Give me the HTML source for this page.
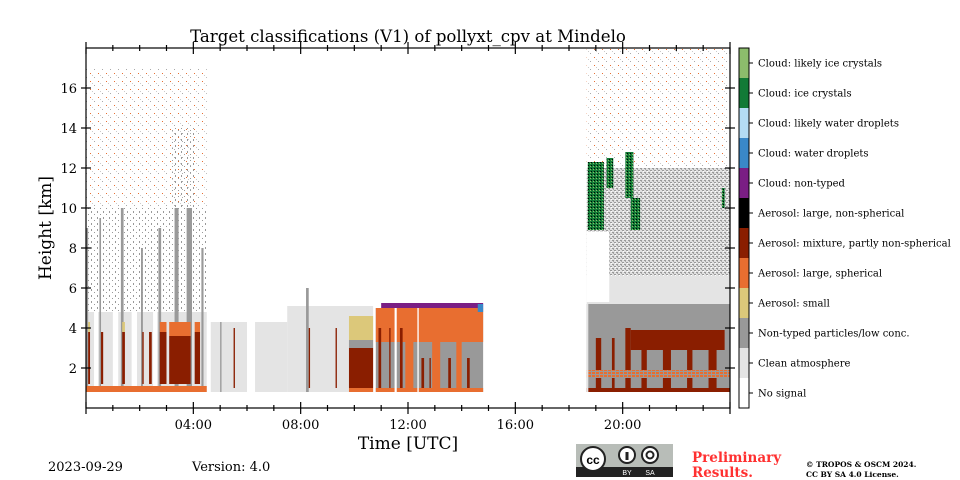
<!DOCTYPE html>
<html><head><meta charset="utf-8">
<style>
body{margin:0;background:#fff;}
svg{display:block;font-family:"DejaVu Serif","Liberation Serif",serif;}
</style></head>
<body>
<svg id="chart" width="960" height="480" viewBox="0 0 960 480">
<defs>
 <pattern id="p12" width="6" height="6" patternUnits="userSpaceOnUse"><rect x="1" y="1" width="1" height="2" fill="#999"/><rect x="4" y="4" width="1" height="1" fill="#999"/></pattern>
 <pattern id="p13" width="8" height="8" patternUnits="userSpaceOnUse"><rect x="2" y="1" width="1" height="1" fill="#e86e30"/><rect x="6" y="5" width="1" height="1" fill="#aaa"/><rect x="4" y="3" width="1" height="1" fill="#ccc"/></pattern>
 <pattern id="p14" width="4" height="4" patternUnits="userSpaceOnUse"><rect width="4" height="4" fill="#e0e0e0"/><rect x="0" y="0" width="2" height="1" fill="#999"/><rect x="2" y="2" width="2" height="1" fill="#999"/><rect x="1" y="1" width="1" height="1" fill="#aaa"/><rect x="3" y="3" width="1" height="1" fill="#fff"/></pattern>
 <pattern id="p15" width="4" height="3" patternUnits="userSpaceOnUse"><rect width="4" height="3" fill="#999"/><rect x="0" y="0" width="3" height="2" fill="#e86e30"/></pattern>
 <pattern id="p16" width="3" height="3" patternUnits="userSpaceOnUse"><rect width="3" height="3" fill="#127a36"/><rect x="0" y="0" width="1" height="1" fill="#000"/><rect x="2" y="1" width="1" height="1" fill="#8cbc6c"/></pattern>
</defs>
<g id="cells"></g>
<g id="axes"></g>
<text x="408" y="42" font-size="16.6" text-anchor="middle">Target classifications (V1) of pollyxt_cpv at Mindelo</text>
<text x="408" y="449" font-size="17" text-anchor="middle">Time [UTC]</text>
<text transform="translate(51,228) rotate(-90)" font-size="17" text-anchor="middle">Height [km]</text>
<g id="colorbar"></g>
<text x="48" y="471" font-size="13">2023-09-29</text>
<text x="192" y="471" font-size="13">Version: 4.0</text>
<g>
 <rect x="576" y="444" width="97" height="33" fill="#b8bdb8"/>
 <rect x="576" y="467" width="97" height="10" fill="#222"/>
 <circle cx="593" cy="459" r="12" fill="#fff" stroke="#222" stroke-width="2"/>
 <text x="593" y="464" font-size="12" font-weight="bold" text-anchor="middle" font-family="Liberation Sans,sans-serif">cc</text>
 <circle cx="627" cy="455" r="8" fill="#fff" stroke="#222" stroke-width="2"/>
 <rect x="625.5" y="452" width="3" height="8" fill="#222"/>
 <circle cx="650" cy="455" r="8" fill="#fff" stroke="#222" stroke-width="2"/>
 <circle cx="650" cy="455" r="3.5" fill="none" stroke="#222" stroke-width="2"/>
 <text x="627" y="475" font-size="7" fill="#fff" text-anchor="middle" font-family="Liberation Sans,sans-serif">BY</text>
 <text x="650" y="475" font-size="7" fill="#fff" text-anchor="middle" font-family="Liberation Sans,sans-serif">SA</text>
</g>
<text x="692" y="462" font-size="13.5" font-weight="bold" fill="#ff3030">Preliminary</text>
<text x="692" y="477" font-size="13.5" font-weight="bold" fill="#ff3030">Results.</text>
<text x="806" y="467" font-size="7.5" font-weight="bold">© TROPOS &amp; OSCM 2024.</text>
<text x="806" y="477" font-size="7.5" font-weight="bold">CC BY SA 4.0 License.</text>
</svg>
<script>
// class colours 0..11 (No signal .. Cloud: likely ice crystals); 12+ are mixed-texture classes
const classNames = ["No signal","Clean atmosphere","Non-typed particles/low conc.","Aerosol: small","Aerosol: large, spherical","Aerosol: mixture, partly non-spherical","Aerosol: large, non-spherical","Cloud: non-typed","Cloud: water droplets","Cloud: likely water droplets","Cloud: ice crystals","Cloud: likely ice crystals"];
const classColors = ["#ffffff","#e4e4e4","#999999","#dcc87a","#e86e30","#8a1e00","#000000","#7a1e84","#3a88c8","#b4dcf4","#127a36","#8cbc6c","url(#p12)","url(#p13)","url(#p14)","url(#p15)","url(#p16)"];
const xTicks = [4,8,12,16,20];
const xTickLabels = ["04:00","08:00","12:00","16:00","20:00"];
const yTicks = [2,4,6,8,10,12,14,16];
// blocks: [t0 (h), t1 (h), h0 (km), h1 (km), class]
const blocks = [
 [0,4.5,0.8,4.8,1],[4.5,7.5,0.8,4.3,1],[7.5,9.8,0.8,5.1,1],
 [0,4.5,4.8,10,12],[3.2,4.1,4.8,14,12],[0,4.5,10,17,13],
 [0.3,0.45,0.8,4.8,0],[1.0,1.2,0.8,4.8,0],[1.7,1.9,0.8,4.8,0],[2.5,2.65,0.8,4.8,0],[4.5,4.65,0.8,4.3,0],[6.0,6.3,0.8,4.3,0],
 [0,0.08,0.8,9,2],[0.5,0.56,0.8,9.5,2],[1.3,1.4,0.8,10,2],[2.05,2.12,0.8,8,2],[2.7,2.8,0.8,9,2],[3.3,3.45,0.8,10,2],[3.75,3.95,0.8,10,2],[4.3,4.38,0.8,8,2],[5.0,5.05,0.8,4.3,2],[8.2,8.3,0.8,6,2],
 [0.08,0.15,1.2,3.8,5],[0.56,0.64,1.2,3.8,5],[1.35,1.45,1.2,3.8,5],[2.1,2.15,1.2,3.8,5],[2.35,2.45,1.2,3.8,5],[2.75,3.0,1.2,3.8,5],[3.1,3.9,1.2,3.6,5],[4.05,4.25,1.2,3.8,5],[5.5,5.55,1.0,4,5],[8.3,8.35,1.0,4,5],[9.3,9.35,1.0,4,5],
 [0,4.5,0.8,1.1,4],[3.1,3.9,3.6,4.3,4],[2.75,3.0,3.8,4.3,4],[0.08,0.15,3.8,4.3,3],[1.35,1.45,3.8,4.3,3],[4.05,4.25,3.8,4.3,4],
 [9.8,10.7,0.8,5.1,1],[9.8,10.7,1.0,3.0,5],[9.8,10.7,3.0,3.4,2],[9.8,10.7,3.4,4.6,3],[9.8,10.7,0.8,1.0,4],
 [10.8,14.8,0.8,5.0,2],[10.8,14.8,3.3,5.0,4],[10.8,14.8,0.8,1.0,4],
 [10.9,11.0,1.0,4,5],[11.3,11.35,1,4,5],[11.7,11.8,1,4,5],
 [11.9,12.2,1,5,4],[12.9,13.2,1,5,4],[13.8,14.0,1,5,4],
 [12.5,12.6,1,2.5,5],[12.8,12.85,1,2.5,5],[13.5,13.6,1,2.5,5],[14.2,14.3,1,2.5,5],
 [11.5,11.58,0.8,5,0],[12.35,12.4,0.8,5,0],
 [11,14.8,5.0,5.25,7],[14.6,14.8,4.8,5.2,8],
 [18.66,24,5.2,6.6,1],[18.66,24,6.6,12,14],[18.66,24,12,18,13],[18.66,19.5,5.3,8.8,0],
 [18.66,24,0.8,5.2,2],[20.3,23.8,2.9,3.9,5],[18.66,24,0.8,1.0,5],
 [19.0,19.2,1,3.5,5],[19.6,19.7,1,3.5,5],[20.1,20.3,1,4,5],[20.7,20.9,1,2.9,5],[21.5,21.8,1,2.9,5],[22.4,22.6,1,2.9,5],[23.2,23.5,1,2.9,5],
 [18.66,24,1.5,1.9,15],[18.66,18.72,0.8,5.2,1],
 [18.7,19.3,8.9,12.3,16],[19.4,19.65,11.0,12.5,16],[20.1,20.4,10.5,12.8,16],[20.3,20.65,8.9,10.5,16],[23.7,23.8,10,11,16]
];
const svg = document.getElementById('chart');
const NS = "http://www.w3.org/2000/svg";
const X0=86,X1=730,Y0=408,Y1=48,TMAX=24,HMAX=18;
const xs = t => X0 + (X1-X0)*t/TMAX;
const ys = h => Y0 - (Y0-Y1)*h/HMAX;
function mk(tag, attrs, parent){const e=document.createElementNS(NS,tag);for(const k in attrs)e.setAttribute(k,attrs[k]);parent.appendChild(e);return e;}
const cells = document.getElementById('cells');
blocks.forEach(b=>{
 const r = mk('rect',{x:xs(b[0]),y:ys(b[3]),width:xs(b[1])-xs(b[0]),height:ys(b[2])-ys(b[3]),fill:classColors[b[4]]},cells);
 
 
});
const axes = document.getElementById('axes');
const frame = mk('rect',{x:X0,y:Y1,width:X1-X0,height:Y0-Y1,fill:'none',stroke:'#000','stroke-width':1.2},axes);


for(let h=0;h<=TMAX;h++){
 const major = h%4===0;
 const L = major?6:3;
 mk('line',{x1:xs(h),x2:xs(h),y1:Y0-L,y2:Y0+L,stroke:'#000','stroke-width':1.2},axes);
 mk('line',{x1:xs(h),x2:xs(h),y1:Y1-L,y2:Y1+L,stroke:'#000','stroke-width':1.2},axes);
}
xTicks.forEach((t,i)=>{
 const tx = mk('text',{x:xs(t),y:Y0+21,'font-size':13,'text-anchor':'middle'},axes);
 tx.textContent = xTickLabels[i];
 
 
});
yTicks.forEach(v=>{
 mk('line',{x1:X0-5,x2:X0+5,y1:ys(v),y2:ys(v),stroke:'#000','stroke-width':1.2},axes);
 mk('line',{x1:X1-5,x2:X1+5,y1:ys(v),y2:ys(v),stroke:'#000','stroke-width':1.2},axes);
 const tx = mk('text',{x:X0-9,y:ys(v)+5,'font-size':13,'text-anchor':'end'},axes);
 tx.textContent = v;
 
 
});
const cb = document.getElementById('colorbar');
const CBX=739,CBW=10,CBT=48,CBH=360,n=classNames.length;
for(let i=0;i<n;i++){
 const cls = n-1-i;
 const y = CBT + i*CBH/n;
 const r = mk('rect',{x:CBX,y:y,width:CBW,height:CBH/n,fill:classColors[cls]},cb);
 
 
 mk('line',{x1:CBX+CBW,x2:CBX+CBW+4,y1:y+CBH/n/2,y2:y+CBH/n/2,stroke:'#000'},cb);
 const t = mk('text',{x:758,y:y+CBH/n/2+3.5,'font-size':10},cb);
 t.textContent = classNames[cls];
 
 
}
mk('rect',{x:CBX,y:CBT,width:CBW,height:CBH,fill:'none',stroke:'#000'},cb);
</script>
</body></html>
